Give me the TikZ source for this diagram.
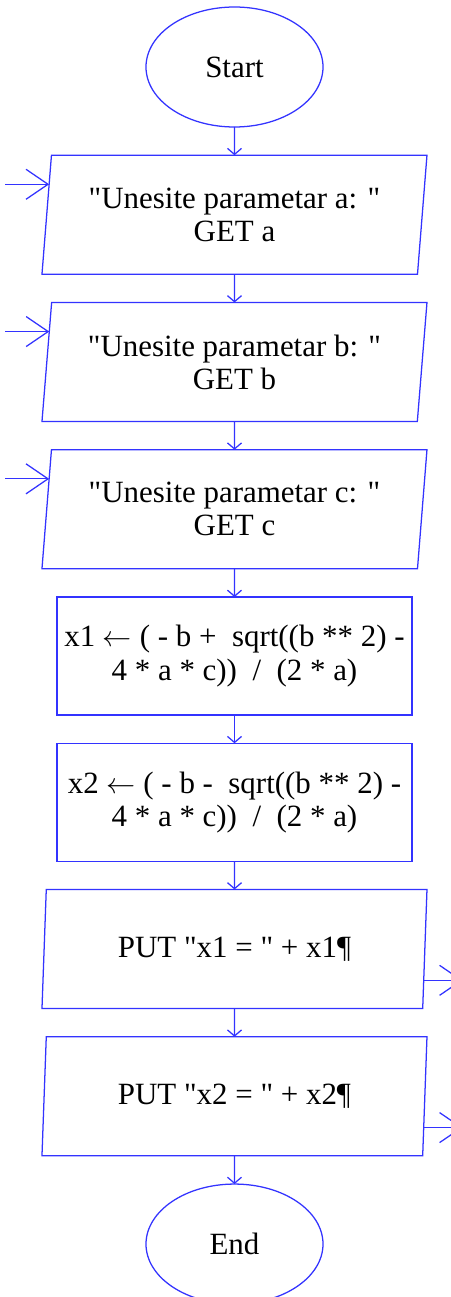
\documentclass[tikz,border=0pt]{standalone}
\usepackage{fontspec}
\setmainfont{Liberation Serif}[Ligatures=TeXOff]
\usetikzlibrary{arrows.meta, positioning, calc, shapes.geometric}
\definecolor{flowblue}{rgb}{0.2,0.2,1}

\begin{document}
\begin{tikzpicture}[
  font=\fontsize{22}{23.5}\selectfont,
  node distance=0.706cm,
  > = {Straight Barb[length=0.15cm, width=0.35cm]},
  blueline/.style = {draw=flowblue, line width=0.9pt},
  terminal/.style = {ellipse, blueline, minimum width=4.425cm, minimum height=3cm, inner sep=0pt, outer sep=0pt},
  io/.style = {trapezium, blueline, trapezium left angle=80, trapezium right angle=100, trapezium stretches body, minimum width=9.625cm, minimum height=2.975cm, align=center, inner sep=0pt, outer sep=0pt},
  process/.style = {rectangle, blueline, minimum width=8.875cm, minimum height=2.95cm, align=center, inner sep=0pt, outer sep=0pt},
  flow/.style = {->, blueline},
  port/.style = {-{Straight Barb[length=0.55cm, width=0.75cm]}, blueline}
  ]
  \useasboundingbox (0,0) rectangle (11.25,-32.425);
  \node[terminal] (start) at (5.8625,-1.675) {Start};
  \node[io, below=of start] (geta) {"Unesite parametar a: "\\GET a};
  \node[io, below=of geta] (getb) {"Unesite parametar b: "\\GET b};
  \node[io, below=of getb] (getc) {"Unesite parametar c: "\\GET c};
  \node[process, below=of getc] (calcx1) {x1 $\leftarrow$ ( - b +\ \ sqrt((b ** 2) -\\4 * a * c))\ \ /\ \ (2 * a)};
  \node[process, below=of calcx1] (calcx2) {x2 $\leftarrow$ ( - b -\ \ sqrt((b ** 2) -\\4 * a * c))\ \ /\ \ (2 * a)};
  \node[io, below=of calcx2] (putx1) {PUT "x1 = " + x1¶};
  \node[io, below=of putx1] (putx2) {PUT "x2 = " + x2¶};
  \node[terminal, below=of putx2] (end) {End};
  \draw[flow] (start) -- (geta);
  \draw[flow] (geta) -- (getb);
  \draw[flow] (getb) -- (getc);
  \draw[flow] (getc) -- (calcx1);
  \draw[flow] (calcx1) -- (calcx2);
  \draw[flow] (calcx2) -- (putx1);
  \draw[flow] (putx1) -- (putx2);
  \draw[flow] (putx2) -- (end);
  \coordinate (ina) at ($(geta.top left corner)!0.244!(geta.bottom left corner)$);
  \coordinate (inb) at ($(getb.top left corner)!0.244!(getb.bottom left corner)$);
  \coordinate (inc) at ($(getc.top left corner)!0.244!(getc.bottom left corner)$);
  \coordinate (outx1) at ($(putx1.bottom right corner)!0.237!(putx1.top right corner)$);
  \coordinate (outx2) at ($(putx2.bottom right corner)!0.237!(putx2.top right corner)$);
  \path (ina) ++(-1.1,0) coordinate (srca);
  \path (inb) ++(-1.1,0) coordinate (srcb);
  \path (inc) ++(-1.1,0) coordinate (srcc);
  \path (outx1) ++(0.975,0) coordinate (dstx1);
  \path (outx2) ++(0.975,0) coordinate (dstx2);
  \draw[port] (srca) -- (ina);
  \draw[port] (srcb) -- (inb);
  \draw[port] (srcc) -- (inc);
  \draw[port] (outx1) -- (dstx1);
  \draw[port] (outx2) -- (dstx2);
\end{tikzpicture}
\end{document}
